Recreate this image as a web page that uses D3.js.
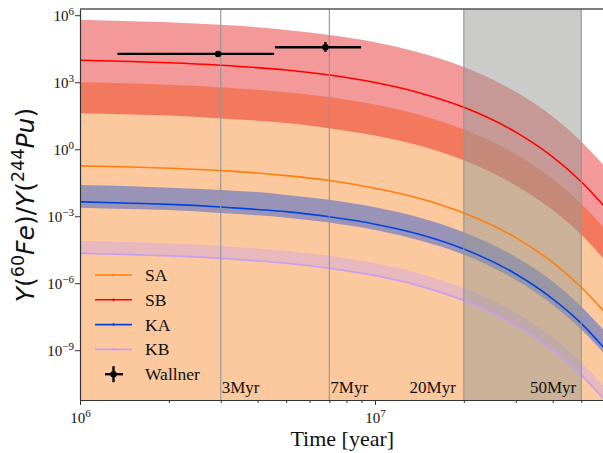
<!DOCTYPE html>
<html>
<head>
<meta charset="utf-8">
<script src="https://cdn.jsdelivr.net/npm/d3@7"></script>
<style>
  body { margin: 0; background: #fff; }
  svg { display: block; }
</style>
</head>
<body>
<svg id="chart" width="603" height="453"></svg>
<script>
// sample times (year) and values
const times = [1e6, 1.5e6, 2e6, 3e6, 4e6, 5e6, 7e6, 1e7, 1.4e7, 2e7, 3e7, 4e7, 5e7, 6e7];

const saLine = [0.18, 0.16, 0.14, 0.11, 0.086, 0.066, 0.040, 0.018, 6.6e-3, 1.4e-3, 1.1e-4, 8.6e-6, 6.6e-7, 5.1e-8];
const sbLine = [9.7e3, 8.5e3, 7.5e3, 5.8e3, 4.5e3, 3.5e3, 2.1e3, 9.7e2, 3.5e2, 75, 5.8, 0.45, 0.035, 2.7e-3];
const kaLine = [4.4e-3, 3.8e-3, 3.4e-3, 2.6e-3, 2.0e-3, 1.6e-3, 9.4e-4, 4.4e-4, 1.6e-4, 3.4e-5, 2.6e-6, 2.0e-7, 1.6e-8, 1.2e-9];
const kbLine = [2.2e-5, 1.9e-5, 1.7e-5, 1.3e-5, 1.0e-5, 7.9e-6, 4.7e-6, 2.2e-6, 7.9e-7, 1.7e-7, 1.3e-8, 1.0e-9, 7.9e-11, 6.1e-12];

const saHigh = [1.0e3, 8.8e2, 7.7e2, 6.0e2, 4.6e2, 3.6e2, 2.2e2, 1.0e2, 36, 7.7, 0.6, 0.046, 3.6e-3, 2.8e-4];
const saLow = [1e-13, 9e-14, 8e-14, 6e-14, 5e-14, 4e-14, 2e-14, 1e-14, 4e-15, 8e-16, 6e-17, 5e-18, 4e-19, 3e-20];
const sbHigh = [6.2e5, 5.4e5, 4.8e5, 3.7e5, 2.9e5, 2.2e5, 1.3e5, 6.2e4, 2.2e4, 4.8e3, 3.7e2, 29, 2.2, 0.17];
const sbLow = [41, 36, 32, 24, 19, 15, 8.8, 4.1, 1.5, 0.32, 0.024, 1.9e-3, 1.5e-4, 1.1e-5];
const kaHigh = [2.5e-2, 2.2e-2, 1.9e-2, 1.5e-2, 1.2e-2, 9.0e-3, 5.4e-3, 2.5e-3, 9.0e-4, 1.9e-4, 1.5e-5, 1.2e-6, 9.0e-8, 7.0e-9];
const kaLow = [2.4e-3, 2.1e-3, 1.9e-3, 1.4e-3, 1.1e-3, 8.6e-4, 5.2e-4, 2.4e-4, 8.6e-5, 1.9e-5, 1.4e-6, 1.1e-7, 8.6e-9, 6.7e-10];
const kbHigh = [7.8e-5, 6.8e-5, 6.0e-5, 4.7e-5, 3.6e-5, 2.8e-5, 1.7e-5, 7.8e-6, 2.8e-6, 6.0e-7, 4.7e-8, 3.6e-9, 2.8e-10, 2.2e-11];
const kbLow = [2.0e-5, 1.8e-5, 1.5e-5, 1.2e-5, 9.3e-6, 7.2e-6, 4.3e-6, 2.0e-6, 7.2e-7, 1.5e-7, 1.2e-8, 9.3e-10, 7.2e-11, 5.5e-12];

// Wallner measurements
const wallnerT = [2.94e6, 6.79e6];
const wallnerTLow = [1.34e6, 4.58e6];
const wallnerTHigh = [4.55e6, 8.97e6];
const wallnerY = [1.85e4, 3.7e4];
const wallnerYLow = [1.8e4, 2.3e4];
const wallnerYHigh = [1.9e4, 6.3e4];

// epochs marked on the plot
const epochT = [3e6, 7e6, 2e7, 5e7];
const epochLabels = ["3Myr", "7Myr", "20Myr", "50Myr"];
const spanT = [2e7, 5e7];

const seriesNames = ["SA", "SB", "KA", "KB"];
const xMajor = [1e6, 1e7];
const xMinor = [2e6, 3e6, 4e6, 5e6, 6e6, 7e6, 8e6, 9e6, 2e7, 3e7, 4e7, 5e7];
const yMajor = [1e-9, 1e-6, 1e-3, 1, 1e3, 1e6];

const colors = { SA: "#ff7f0e", SB: "#ff0000", KA: "#0343df", KB: "#c79fef" };
const bandColors = { SA: "#f7760b", SB: "#e30000", KA: "#0343df", KB: "#c79fef" };
const serif = "'Liberation Serif', 'Times New Roman', serif";

const marginLeft = 80, marginTop = 9, plotW = 524.6, plotH = 391;

const svg = d3.select("#chart");
const x = d3.scaleLog().domain([1e6, 6e7]).range([marginLeft, marginLeft + plotW]);
const y = d3.scaleLog().domain([5.9e-12, 1.9e6]).range([marginTop + plotH, marginTop]);

svg.append("defs").append("clipPath").attr("id", "plot-clip")
  .append("rect")
  .attr("x", marginLeft).attr("y", marginTop)
  .attr("width", plotW).attr("height", plotH);

const plot = svg.append("g").attr("clip-path", "url(#plot-clip)");

// bands
const bands = [
  { name: "SA", low: saLow, high: saHigh },
  { name: "SB", low: sbLow, high: sbHigh },
  { name: "KA", low: kaLow, high: kaHigh },
  { name: "KB", low: kbLow, high: kbHigh }
];

const area = d3.area()
  .x(d => x(d.t))
  .y0(d => y(d.lo))
  .y1(d => y(d.hi))
  .curve(d3.curveMonotoneX);

bands.forEach(b => {
  let pts = times.map((t, i) => ({ t: t, lo: b.low[i], hi: b.high[i] }));
  plot.append("path")
    .attr("d", area(pts))
    .attr("fill", bandColors[b.name])
    .attr("fill-opacity", 0.4);
});

// shaded 20-50 Myr window
plot.append("rect")
  .attr("x", x(spanT[0]))
  .attr("y", marginTop)
  .attr("width", x(spanT[1]) - x(spanT[0]))
  .attr("height", plotH)
  .attr("fill", "#979a94")
  .attr("fill-opacity", 0.5);

// model lines
const lines = { SA: saLine, SB: sbLine, KA: kaLine, KB: kbLine };
const line = d3.line()
  .x(d => x(d.t))
  .y(d => y(d.v))
  .curve(d3.curveMonotoneX);

seriesNames.forEach(n => {
  let pts = times.map((t, i) => ({ t: t, v: lines[n][i] }));
  plot.append("path")
    .attr("d", line(pts))
    .attr("fill", "none")
    .attr("stroke", colors[n])
    .attr("stroke-width", 1.6);
});

// epoch lines and labels
plot.selectAll(".epoch")
  .data(epochT)
  .enter()
  .append("line")
  .attr("class", "epoch")
  .attr("x1", d => x(d)).attr("x2", d => x(d))
  .attr("y1", marginTop).attr("y2", marginTop + plotH)
  .attr("stroke", "#8f969a")
  .attr("stroke-width", 1.1);

svg.selectAll(".epoch-label")
  .data(epochT)
  .enter()
  .append("text")
  .attr("class", "epoch-label")
  .attr("x", (d, i) => i < 2 ? x(d) + 1 : x(d) - (i == 2 ? 8 : 5))
  .attr("y", 393)
  .attr("text-anchor", (d, i) => i < 2 ? "start" : "end")
  .style("font-family", serif)
  .style("font-size", "17px")
  .attr("fill", "#111")
  .text((d, i) => epochLabels[i]);

// Wallner error bars
const wallner = wallnerT.map((t, i) => ({
  t: t, tl: wallnerTLow[i], th: wallnerTHigh[i],
  v: wallnerY[i], vl: wallnerYLow[i], vh: wallnerYHigh[i]
}));

const wg = plot.append("g");
wallner.forEach(d => {
  wg.append("line")
    .attr("x1", x(d.tl)).attr("x2", x(d.th))
    .attr("y1", y(d.v)).attr("y2", y(d.v))
    .attr("stroke", "#000").attr("stroke-width", 2.4);
  wg.append("line")
    .attr("x1", x(d.t)).attr("x2", x(d.t))
    .attr("y1", y(d.vl)).attr("y2", y(d.vh))
    .attr("stroke", "#000").attr("stroke-width", 2.4);
  wg.append("circle")
    .attr("cx", x(d.t)).attr("cy", y(d.v))
    .attr("r", 3.2).attr("fill", "#000");
});

// axes
const xAxis = svg.append("g")
  .attr("transform", "translate(0," + (marginTop + plotH) + ")")
  .call(d3.axisBottom(x).tickValues(xMajor).tickSize(5).tickSizeOuter(0).tickFormat(""));
svg.append("g")
  .attr("transform", "translate(0," + (marginTop + plotH) + ")")
  .call(d3.axisBottom(x).tickValues(xMinor).tickSize(3).tickSizeOuter(0).tickFormat(""))
  .call(g => g.select(".domain").remove());

xAxis.selectAll(".tick").append("text")
  .attr("y", 23)
  .attr("fill", "#111")
  .attr("text-anchor", "middle")
  .style("font-family", serif)
  .style("font-size", "15px")
  .each(function (d) {
    let t = d3.select(this);
    t.append("tspan").text("10");
    t.append("tspan").attr("dy", -6).style("font-size", "11px").text(Math.round(Math.log10(d)));
  });

const yAxis = svg.append("g")
  .attr("transform", "translate(" + marginLeft + ",0)")
  .call(d3.axisLeft(y).tickValues(yMajor).tickSize(5).tickSizeOuter(0).tickFormat(""));

yAxis.selectAll(".tick").append("text")
  .attr("x", -6)
  .attr("y", 5)
  .attr("fill", "#111")
  .attr("text-anchor", "end")
  .style("font-family", serif)
  .style("font-size", "15px")
  .each(function (d) {
    let t = d3.select(this);
    let e = Math.round(Math.log10(d));
    t.append("tspan").text("10");
    t.append("tspan").attr("dy", -6).style("font-size", "11px")
      .text(e < 0 ? "\u2212" + (-e) : String(e));
  });

svg.selectAll(".domain").attr("stroke", "#333").attr("stroke-width", 1.2);
svg.selectAll(".tick line").attr("stroke", "#333");

// top spine
svg.append("line")
  .attr("x1", marginLeft).attr("x2", marginLeft + plotW)
  .attr("y1", marginTop).attr("y2", marginTop)
  .attr("stroke", "#555").attr("stroke-width", 1.4);

// axis titles
svg.append("text")
  .attr("x", marginLeft + plotW / 2)
  .attr("y", 446)
  .attr("text-anchor", "middle")
  .style("font-family", serif)
  .style("font-size", "22px")
  .attr("fill", "#111")
  .text("Time [year]");

const ylab = svg.append("text")
  .attr("transform", "translate(34,205) rotate(-90)")
  .attr("text-anchor", "middle")
  .style("font-family", "'DejaVu Sans', sans-serif")
  .style("font-size", "25px")
  .attr("fill", "#111");
const ylabParts = [
  ["Y", "i", 0], ["(", "n", 0], ["60", "n", -10], ["Fe", "i", 10], [")/", "n", 0],
  ["Y", "i", 0], ["(", "n", 0], ["244", "n", -10], ["Pu", "i", 10], [")", "n", 0]
];
ylabParts.forEach(p => {
  let s = ylab.append("tspan").text(p[0]).attr("dy", p[2]);
  if (p[1] == "i") s.style("font-style", "italic");
  if (p[2] < 0) s.style("font-size", "17.5px");
});

// legend
const legend = svg.append("g").attr("transform", "translate(95,275)");
seriesNames.forEach((n, i) => {
  let row = legend.append("g").attr("transform", "translate(0," + i * 24.8 + ")");
  row.append("line")
    .attr("x1", 0).attr("x2", 37)
    .attr("stroke", colors[n]).attr("stroke-width", 1.6);
  row.append("circle")
    .attr("cx", 18.5).attr("r", 1.3)
    .attr("fill", colors[n]);
  row.append("text")
    .attr("x", 50).attr("y", 6)
    .style("font-family", serif)
    .style("font-size", "17.5px")
    .attr("fill", "#111")
    .text(n);
});
const wrow = legend.append("g").attr("transform", "translate(0," + 4 * 24.8 + ")");
wrow.append("line").attr("x1", 10).attr("x2", 28).attr("stroke", "#000").attr("stroke-width", 2.4);
wrow.append("line").attr("x1", 18.5).attr("x2", 18.5).attr("y1", -8).attr("y2", 8).attr("stroke", "#000").attr("stroke-width", 2.4);
wrow.append("circle").attr("cx", 18.5).attr("r", 3.2).attr("fill", "#000");
wrow.append("text")
  .attr("x", 50).attr("y", 6)
  .style("font-family", serif)
  .style("font-size", "17.5px")
  .attr("fill", "#111")
  .text("Wallner");
</script>
</body>
</html>
